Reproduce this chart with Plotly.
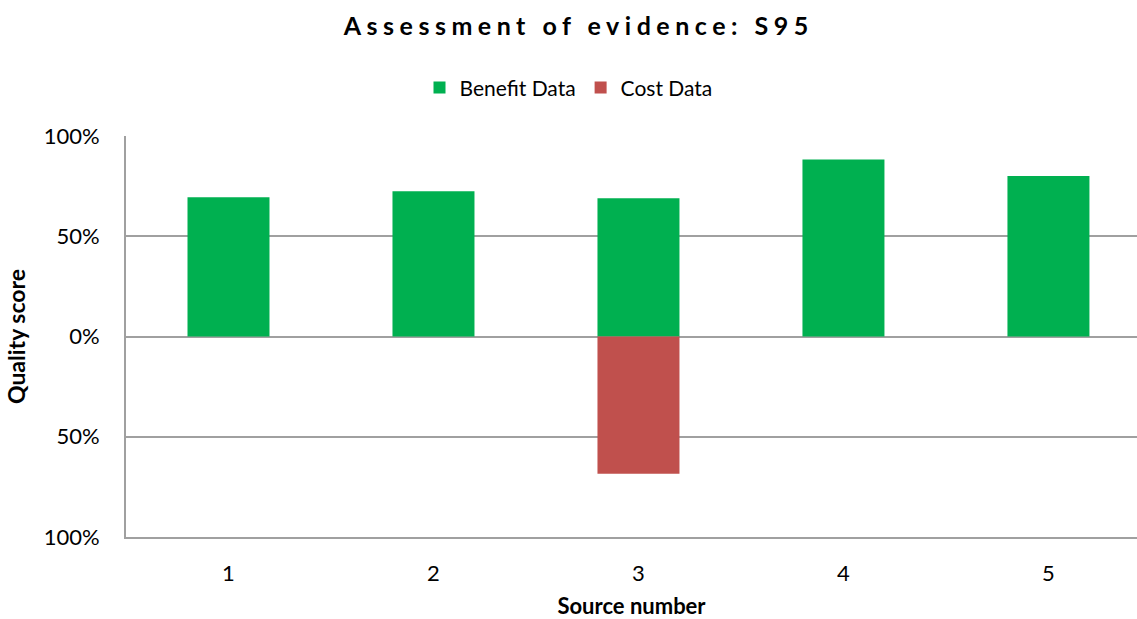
import plotly.graph_objects as go

sources = [1, 2, 3, 4, 5]
benefit = [69.5, 72.5, 69, 88.3, 80]
cost = [None, None, -68.5, None, None]
y_tickvals = [-100, -50, 0, 50, 100]
y_ticktext = ["100%", "50%", "0%", "50%", "100%"]

FONT = "Lato, 'Open Sans', sans-serif"
GRID = "#a0a0a0"

fig = go.Figure()
fig.add_trace(go.Bar(x=sources, y=benefit, name="Benefit Data",
                     marker=dict(color="#00b050", line=dict(width=0)), width=0.4))
fig.add_trace(go.Bar(x=sources, y=cost, name="Cost Data",
                     marker=dict(color="#c0504d", line=dict(width=0)), width=0.4))

fig.update_layout(
    width=1137, height=619,
    barmode="relative",
    paper_bgcolor="white", plot_bgcolor="white",
    margin=dict(l=126, r=0, t=136, b=82),
    font=dict(family=FONT, color="black"),
    title=dict(text="<b>Assessment of evidence: S95</b>", x=0.509, xref="container",
               xanchor="center", y=0.957, yref="container", yanchor="middle",
               font=dict(size=25, family=FONT, color="black")),
    legend=dict(orientation="h", x=0.5, xref="container", xanchor="center",
                y=0.858, yref="container", yanchor="middle",
                font=dict(size=21, family=FONT, color="black"),
                itemwidth=30, traceorder="normal"),
    xaxis=dict(range=[0.5, 5.432], tickvals=sources, ticktext=[str(s) for s in sources],
               showgrid=False, showline=True, linecolor=GRID, linewidth=2,
               ticks="", ticklabelstandoff=16,
               tickfont=dict(size=22, family=FONT, color="black"),
               title=dict(text="<b>Source number</b>", standoff=18,
                          font=dict(size=22, family=FONT, color="black")),
               zeroline=False, fixedrange=True),
    yaxis=dict(range=[-100, 100], tickvals=y_tickvals, ticktext=y_ticktext,
               showgrid=True, gridcolor=GRID, gridwidth=2,
               zeroline=True, zerolinecolor=GRID, zerolinewidth=2,
               showline=True, linecolor=GRID, linewidth=2,
               ticks="", ticklabelstandoff=20,
               tickfont=dict(size=22, family=FONT, color="black"),
               title=dict(text="<b>Quality score</b>", standoff=12,
                          font=dict(size=23, family=FONT, color="black")),
               fixedrange=True),
)

post = ("document.documentElement.style.margin='0';"
        "document.body.style.margin='0';"
        "document.body.style.overflow='hidden';"
        "document.querySelectorAll('.gtitle').forEach(function(e){"
        "e.style.letterSpacing='5.5px';});")
fig.write_html("out.html", post_script=post, config={"displayModeBar": False})
